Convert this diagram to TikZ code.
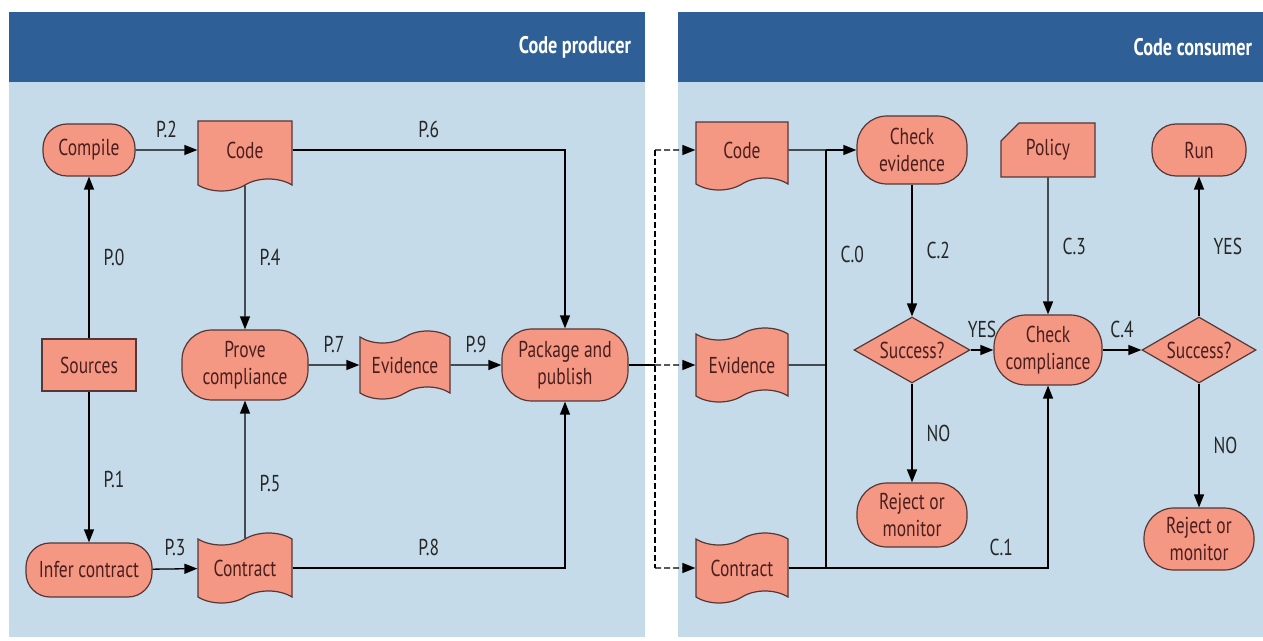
\documentclass[tikz,border=0pt]{standalone}
\usepackage{fontspec}
\setmainfont{PT Sans}[FakeStretch=0.76]
\usetikzlibrary{shapes.geometric, shapes.symbols, shapes.misc, arrows.meta}

\definecolor{headblue}{RGB}{46,95,150}
\definecolor{panelblue}{RGB}{197,219,234}
\definecolor{salmon}{RGB}{244,152,132}
\definecolor{boxline}{RGB}{85,55,55}
\definecolor{boxtext}{RGB}{75,30,30}

\begin{document}
\begin{tikzpicture}[x=0.5pt, y=-0.5pt,
    every node/.style={font=\fontsize{11.5pt}{13.5pt}\selectfont},
    box/.style={draw=boxline, fill=salmon, line width=0.6pt, text=boxtext, align=center, inner sep=2pt},
    terminal/.style={box, rounded corners=12pt},
    doc/.style={box, tape, tape bend top=none, tape bend height=6pt},
    flag/.style={box, tape, tape bend height=6pt},
    card/.style={box, chamfered rectangle, chamfered rectangle corners=north west,
      chamfered rectangle xsep=4.5pt, chamfered rectangle ysep=4.5pt},
    decision/.style={box, diamond, aspect=1.75, inner sep=0pt},
    lbl/.style={text=black!85, inner sep=2pt},
    flow/.style={-{Triangle[length=6.5pt,width=5pt]}, line width=0.65pt},
    link/.style={line width=0.65pt}]
    \useasboundingbox (0,0) rectangle (1263,641);

    %% panels
    \fill[panelblue] (9,12) rectangle (645,637);
    \fill[headblue] (9,12) rectangle (645,82);
    \fill[panelblue] (678,12) rectangle (1263,637);
    \fill[headblue] (678,12) rectangle (1263,82);
    \node[anchor=east, text=white, font=\bfseries\fontsize{12pt}{13pt}\selectfont] (hprod) at (638,47) {Code producer};
    \node[anchor=east, text=white, font=\bfseries\fontsize{12pt}{13pt}\selectfont] (hcons) at (1259,47) {Code consumer};

    %% producer side
    \node[terminal, minimum width=46pt, minimum height=26pt] (cmp) at (89,150) {Compile};
    \node[doc, minimum width=47pt, minimum height=35pt] (code) at (245,150) {Code};
    \node[box, minimum width=47pt, minimum height=26pt] (src) at (89,365) {Sources};
    \node[terminal, minimum width=63pt, minimum height=35pt, rounded corners=15pt] (prove) at (245,365) {Prove\\compliance};
    \node[flag, minimum width=45pt, minimum height=34pt] (evid) at (405,365) {Evidence};
    \node[terminal, minimum width=63pt, minimum height=36pt, rounded corners=15pt] (pkg) at (565,365) {Package and\\publish};
    \node[terminal, minimum width=63pt, minimum height=27pt] (inf) at (89,570) {Infer contract};
    \node[flag, minimum width=47pt, minimum height=35pt] (ctr) at (245,568) {Contract};

    \draw[flow] (src) -- (cmp) node[lbl, midway, right=5pt] {P.0};
    \draw[flow] (src) -- (inf) node[lbl, pos=0.58, right=5pt] {P.1};
    \draw[flow] (cmp) -- (code) node[lbl, midway, above=4pt] {P.2};
    \draw[flow] (inf) -- (ctr) node[lbl, midway, above=4pt] {P.3};
    \draw[flow] (code) -- (prove) node[lbl, midway, right=5pt] {P.4};
    \draw[flow] (ctr) -- (prove) node[lbl, pos=0.4, right=5pt] {P.5};
    \draw[flow] (code) -| (pkg) node[lbl, pos=0.25, above=4pt] {P.6};
    \draw[flow] (prove) -- (evid) node[lbl, midway, above=4pt] {P.7};
    \draw[flow] (ctr) -| (pkg) node[lbl, pos=0.25, above=4pt] {P.8};
    \draw[flow] (evid) -- (pkg) node[lbl, midway, above=4pt] {P.9};

    %% handing over
    \coordinate (hub) at (655,365);
    \coordinate (hubtop) at (655,150);
    \coordinate (hubbot) at (655,568);
    \draw[link] (pkg) -- (hub);
    \draw[link, dash pattern=on 3pt off 1.5pt] (hubtop) -- (hubbot);

    %% consumer side
    \node[doc, minimum width=46pt, minimum height=34pt] (code2) at (742,150) {Code};
    \node[flag, minimum width=46pt, minimum height=37pt] (evid2) at (742,365) {Evidence};
    \node[flag, minimum width=46pt, minimum height=35pt] (ctr2) at (742,568) {Contract};
    \node[terminal, minimum width=55pt, minimum height=34pt, rounded corners=15pt] (chk) at (912,150) {Check\\evidence};
    \node[card, minimum width=47pt, minimum height=27pt] (pol) at (1048,150) {Policy};
    \node[terminal, minimum width=47pt, minimum height=26pt] (run) at (1199,150) {Run};
    \node[decision, minimum width=58pt, minimum height=33pt] (suc1) at (912,350) {Success?};
    \node[terminal, minimum width=54pt, minimum height=35pt, rounded corners=16pt] (cc) at (1048,350) {Check\\compliance};
    \node[decision, minimum width=57pt, minimum height=33pt] (suc2) at (1199,350) {Success?};
    \node[terminal, minimum width=55pt, minimum height=32pt, rounded corners=15pt] (rej1) at (912,515) {Reject or\\monitor};
    \node[terminal, minimum width=55pt, minimum height=31pt, rounded corners=15pt] (rej2) at (1199,539) {Reject or\\monitor};

    \draw[flow, dash pattern=on 3pt off 1.5pt] (hubtop) -- (code2);
    \draw[flow, dash pattern=on 3pt off 1.5pt] (hub) -- (evid2);
    \draw[flow, dash pattern=on 3pt off 1.5pt] (hubbot) -- (ctr2);

    \coordinate (bustop) at (826,150);
    \coordinate (busbot) at (826,568);
    \draw[link] (code2) -- (bustop);
    \draw[flow] (bustop) -- (chk);
    \draw[link] (bustop) -- (busbot) node[lbl, pos=0.25, right=5pt] {C.0};
    \draw[link] (evid2) -- (evid2 -| bustop);
    \draw[flow] (ctr2) -| (cc) node[lbl, pos=0.41, above=4pt] {C.1};
    \draw[flow] (chk) -- (suc1) node[lbl, midway, right=5pt] {C.2};
    \draw[flow] (pol) -- (cc) node[lbl, midway, right=5pt] {C.3};
    \draw[flow] (suc1) -- (cc) node[lbl, midway, above=4pt] {YES};
    \draw[flow] (cc) -- (suc2) node[lbl, midway, above=4pt] {C.4};
    \draw[flow] (suc1) -- (rej1) node[lbl, midway, right=5pt] {NO};
    \draw[flow] (suc2) -- (run) node[lbl, midway, right=5pt] {YES};
    \draw[flow] (suc2) -- (rej2) node[lbl, midway, right=5pt] {NO};
\end{tikzpicture}
\end{document}
